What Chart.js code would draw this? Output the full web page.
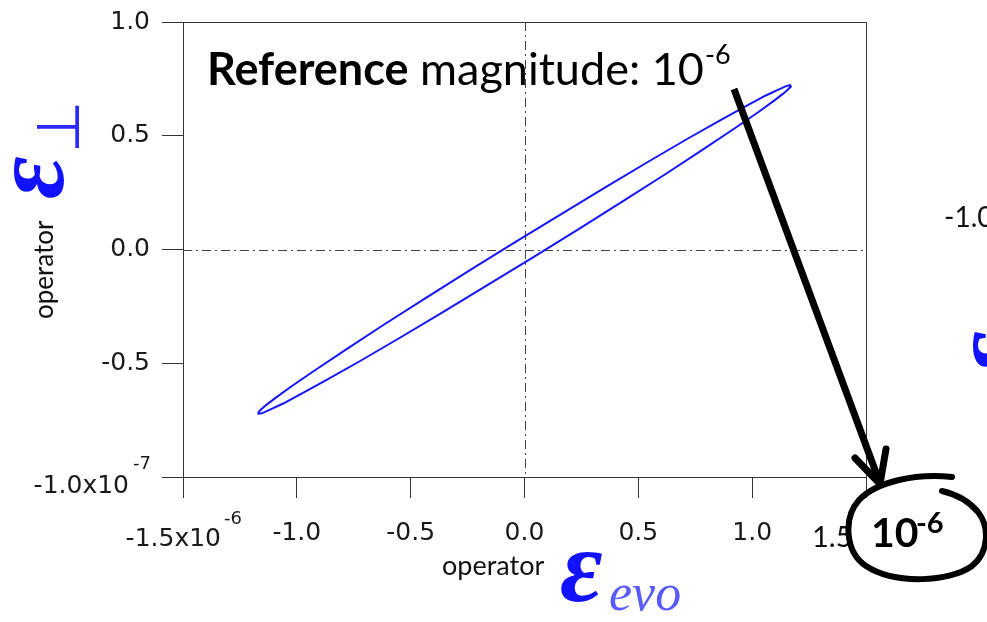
<!DOCTYPE html>
<html>
<head>
<meta charset="utf-8">
<script src="https://cdn.jsdelivr.net/npm/chart.js@4.4.1/dist/chart.umd.min.js"></script>
<style>
  html, body { margin: 0; padding: 0; background: #ffffff; }
  #wrap { width: 987px; height: 622px; position: relative; }
  canvas { display: block; }
</style>
</head>
<body>
<div id="wrap"><canvas id="c" width="987" height="622"></canvas></div>
<script>
// Operator loop: ε_⊥ against ε_evo.
// x values in units of 1e-6, y values in units of 1e-7.
const evoValues = [
  1.170, 1.167, 1.159, 1.144, 1.113, 1.060, 0.981, 0.869, 0.720, 0.549, 0.362, 0.163,
  -0.041, -0.243, -0.438, -0.620, -0.783, -0.922, -1.023, -1.092, -1.135, -1.156, -1.166, -1.169,
  -1.170, -1.167, -1.159, -1.144, -1.113, -1.060, -0.981, -0.869, -0.720, -0.549, -0.362, -0.163,
  0.041, 0.243, 0.438, 0.620, 0.783, 0.922, 1.023, 1.092, 1.135, 1.156, 1.166, 1.169, 1.170
];
const perpValues = [
  0.720, 0.722, 0.721, 0.716, 0.702, 0.677, 0.635, 0.573, 0.489, 0.389, 0.277, 0.157,
  0.032, -0.093, -0.216, -0.332, -0.439, -0.532, -0.601, -0.651, -0.684, -0.702, -0.712, -0.717,
  -0.720, -0.722, -0.721, -0.716, -0.702, -0.677, -0.635, -0.573, -0.489, -0.389, -0.277, -0.157,
  -0.032, 0.093, 0.216, 0.332, 0.439, 0.532, 0.601, 0.651, 0.684, 0.702, 0.712, 0.717, 0.720
];
const xTicks = [-1.5, -1.0, -0.5, 0.0, 0.5, 1.0, 1.5];
const yTicks = [-1.0, -0.5, 0.0, 0.5, 1.0];
const xExponent = '-6';
const yExponent = '-7';
const magnitudeNote = { bold: 'Reference', rest: ' magnitude: 10', sup: '-6' };

const AXIS = '#333333';
const TICK_FONT = { family: 'DejaVu Sans', size: 25 };

const points = evoValues.map((x, i) => ({ x: x, y: perpValues[i] }));

function fmt(v) { return v.toFixed(1); }

// zero lines, drawn dash-dot across the plot area
const zeroLines = {
  id: 'zeroLines',
  beforeDatasetsDraw(chart) {
    const { ctx, chartArea: a, scales } = chart;
    const x0 = scales.x.getPixelForValue(0);
    const y0 = scales.y.getPixelForValue(0);
    ctx.save();
    ctx.strokeStyle = '#444444';
    ctx.lineWidth = 1;
    ctx.setLineDash([9, 4, 2, 4]);
    ctx.beginPath();
    ctx.moveTo(a.left, Math.round(y0) + 0.5);
    ctx.lineTo(a.right, Math.round(y0) + 0.5);
    ctx.stroke();
    ctx.beginPath();
    ctx.moveTo(Math.round(x0) + 0.5, a.top);
    ctx.lineTo(Math.round(x0) + 0.5, a.bottom);
    ctx.stroke();
    ctx.restore();
  }
};

// frame, exponent labels, axis titles and notes
const decorations = {
  id: 'decorations',
  afterDraw(chart) {
    const { ctx, chartArea: a, scales } = chart;
    ctx.save();

    // top and right frame
    ctx.strokeStyle = AXIS;
    ctx.lineWidth = 1;
    ctx.beginPath();
    ctx.moveTo(a.left, Math.round(a.top) + 0.5);
    ctx.lineTo(Math.round(a.right) + 0.5, Math.round(a.top) + 0.5);
    ctx.lineTo(Math.round(a.right) + 0.5, a.bottom);
    ctx.stroke();

    // first tick labels carry the exponent
    ctx.fillStyle = '#1a1a1a';
    ctx.textBaseline = 'alphabetic';
    const px = scales.x.getPixelForValue(xTicks[0]);
    ctx.font = '25px "DejaVu Sans"';
    ctx.textAlign = 'right';
    ctx.fillText(fmt(xTicks[0]) + 'x10', px + 38, 546);
    ctx.font = '18px "DejaVu Sans"';
    ctx.textAlign = 'left';
    ctx.fillText(xExponent, px + 41, 524);

    const py = scales.y.getPixelForValue(yTicks[0]);
    ctx.font = '25px "DejaVu Sans"';
    ctx.textAlign = 'right';
    ctx.fillText(fmt(yTicks[0]) + 'x10', a.left - 54, py + 16);
    ctx.font = '18px "DejaVu Sans"';
    ctx.textAlign = 'left';
    ctx.fillText(yExponent, a.left - 50, py - 8);

    // x-axis title
    ctx.fillStyle = '#111111';
    ctx.font = '27px Lato';
    ctx.textAlign = 'left';
    ctx.fillText('operator', 442, 575);
    ctx.fillStyle = '#1212ff';
    ctx.font = 'italic bold 104px "Liberation Serif"';
    ctx.fillText('ε', 560, 601);
    ctx.fillStyle = '#5a5aff';
    ctx.font = 'italic 52px "Liberation Serif"';
    ctx.fillText('evo', 609, 610);

    // y-axis title (rotated)
    ctx.save();
    ctx.translate(53, 319);
    ctx.rotate(-Math.PI / 2);
    ctx.fillStyle = '#111111';
    ctx.font = '26px Lato';
    ctx.fillText('operator', 0, 0);
    ctx.restore();

    ctx.save();
    ctx.translate(63, 199);
    ctx.rotate(-Math.PI / 2);
    ctx.fillStyle = '#1212ff';
    ctx.font = 'italic bold 104px "Liberation Serif"';
    ctx.fillText('ε', 0, 0);
    ctx.restore();

    ctx.save();
    ctx.translate(79, 153);
    ctx.rotate(-Math.PI / 2);
    ctx.fillStyle = '#2a2aff';
    ctx.font = '200 60px "DejaVu Sans"';
    ctx.fillText('⊥', 0, 0);
    ctx.restore();

    // magnitude note
    ctx.fillStyle = '#000000';
    ctx.font = 'bold 45px Lato';
    ctx.textAlign = 'left';
    let tx = 207;
    ctx.fillText(magnitudeNote.bold, tx, 85);
    tx += ctx.measureText(magnitudeNote.bold).width;
    ctx.font = '45px Lato';
    ctx.fillText(magnitudeNote.rest, tx, 85);
    tx += ctx.measureText(magnitudeNote.rest).width + 1;
    ctx.font = '27px Lato';
    ctx.fillText(magnitudeNote.sup, tx, 64);

    // arrow pointing to the exponent
    ctx.strokeStyle = '#000000';
    ctx.lineWidth = 7;
    ctx.lineCap = 'butt';
    ctx.beginPath();
    ctx.moveTo(734, 89);
    ctx.lineTo(878, 478);
    ctx.stroke();
    ctx.lineCap = 'round';
    ctx.lineJoin = 'round';
    ctx.beginPath();
    ctx.moveTo(855, 458);
    ctx.lineTo(880, 484);
    ctx.lineTo(886, 449);
    ctx.stroke();

    // last x tick label and circled exponent
    ctx.fillStyle = '#111111';
    ctx.font = '29px Lato';
    ctx.fillText(fmt(xTicks[xTicks.length - 1]), 812, 547);
    ctx.fillStyle = '#ffffff';
    ctx.fillRect(852, 500, 10, 52);

    ctx.lineWidth = 6;
    ctx.beginPath();
    ctx.moveTo(952, 477);
    ctx.bezierCurveTo(915, 473, 876, 482, 859, 500);
    ctx.bezierCurveTo(843, 518, 845, 552, 866, 566);
    ctx.bezierCurveTo(895, 585, 950, 582, 972, 566);
    ctx.bezierCurveTo(990, 551, 989, 526, 978, 512);
    ctx.bezierCurveTo(968, 500, 955, 494, 942, 491);
    ctx.stroke();

    ctx.fillStyle = '#000000';
    ctx.font = 'bold 41px Lato';
    ctx.fillText('10', 871, 547);
    ctx.font = 'bold 29px Lato';
    ctx.fillText(xExponent, 916, 533);

    // neighbouring panel edge
    ctx.fillStyle = '#111111';
    ctx.font = '28px Lato';
    ctx.fillText('-1.0', 944, 227);
    ctx.save();
    ctx.translate(1022, 374);
    ctx.rotate(-Math.PI / 2);
    ctx.fillStyle = '#1212ff';
    ctx.font = 'italic bold 104px "Liberation Serif"';
    ctx.fillText('ε', 0, 0);
    ctx.restore();

    ctx.restore();
  }
};

new Chart(document.getElementById('c'), {
  type: 'scatter',
  data: {
    datasets: [{
      data: points,
      showLine: true,
      borderColor: 'rgb(22,22,250)',
      borderWidth: 2,
      pointRadius: 0,
      fill: false,
      tension: 0
    }]
  },
  options: {
    responsive: false,
    animation: false,
    devicePixelRatio: 1,
    layout: { padding: { left: 0, top: 22, right: 121, bottom: 0 } },
    plugins: { legend: { display: false }, tooltip: { enabled: false } },
    scales: {
      x: {
        type: 'linear',
        min: xTicks[0],
        max: xTicks[xTicks.length - 1],
        afterBuildTicks: s => { s.ticks = xTicks.map(v => ({ value: v })); },
        afterFit: s => { s.height = 145; s.paddingLeft = 0; s.paddingRight = 0; },
        ticks: {
          font: TICK_FONT,
          color: '#1a1a1a',
          padding: 20,
          maxRotation: 0,
          autoSkip: false,
          callback: v => (v === xTicks[0] || v === xTicks[xTicks.length - 1]) ? '' : fmt(v)
        },
        grid: { drawOnChartArea: false, drawTicks: true, tickLength: 21, color: AXIS, lineWidth: 1 },
        border: { display: true, color: AXIS, width: 1 }
      },
      y: {
        type: 'linear',
        min: yTicks[0],
        max: yTicks[yTicks.length - 1],
        afterBuildTicks: s => { s.ticks = yTicks.map(v => ({ value: v })); },
        afterFit: s => { s.width = 183; s.paddingTop = 0; s.paddingBottom = 0; },
        ticks: {
          font: TICK_FONT,
          color: '#1a1a1a',
          padding: 12,
          autoSkip: false,
          callback: v => v === yTicks[0] ? '' : fmt(v)
        },
        grid: { drawOnChartArea: false, drawTicks: true, tickLength: 21, color: AXIS, lineWidth: 1 },
        border: { display: true, color: AXIS, width: 1 }
      }
    }
  },
  plugins: [zeroLines, decorations]
});
</script>
</body>
</html>
